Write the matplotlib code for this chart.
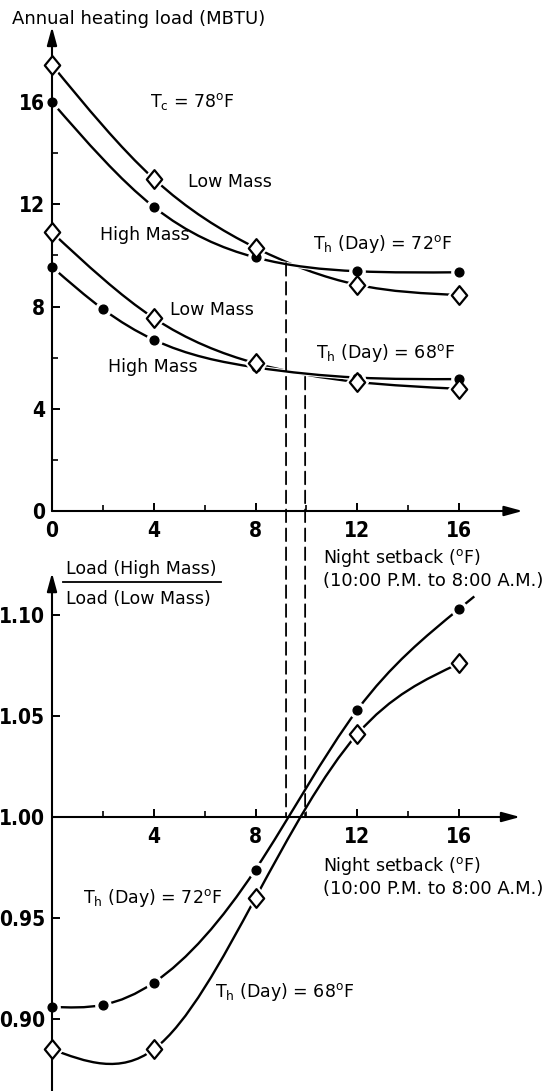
import numpy as np
import matplotlib
matplotlib.use("Agg")
import matplotlib.pyplot as plt
from matplotlib import font_manager
from matplotlib.path import Path
from matplotlib.patches import PathPatch, ConnectionPatch
import matplotlib.patheffects as pe

# ---------------- data ----------------
setback_72 = [0, 4, 8, 12, 16]
load_72_low = [17.45, 13.0, 10.3, 8.85, 8.45]
load_72_high = [16.0, 11.9, 9.92, 9.38, 9.34]

setback_68_low = [0, 4, 8, 12, 16]
load_68_low = [10.9, 7.55, 5.78, 5.05, 4.78]
setback_68_high = [0, 2, 4, 8, 12, 16]
load_68_high = [9.55, 7.9, 6.7, 5.62, 5.22, 5.16]

ratio_72_x = [0, 2, 4, 8, 12, 16]
ratio_72 = [0.906, 0.907, 0.918, 0.974, 1.053, 1.103]
ratio_68_x = [0, 4, 8, 12, 16]
ratio_68 = [0.885, 0.885, 0.960, 1.041, 1.076]

crossover_x = [9.2, 9.95]
crossover_load = [9.7, 5.25]

top_xticks = [0, 4, 8, 12, 16]
top_yticks = [0, 4, 8, 12, 16]
bot_xticks = [4, 8, 12, 16]
bot_yticks = [0.90, 0.95, 1.00, 1.05, 1.10]
bot_yticklabels = ["0.90", "0.95", "1.00", "1.05", "1.10"]

# ---------------- style ----------------
W, H = 556, 1091
plt.rcParams["font.family"] = ["DejaVu Sans"]
plt.rcParams["mathtext.fontset"] = "custom"
plt.rcParams["mathtext.rm"] = "DejaVu Sans"
TEXT_FS = 12.5
LW = 1.7

# pick a condensed bold face for the tick numerals if one is installed
_fonts = font_manager.fontManager.ttflist
TICK_FONT = None
for f in _fonts:
    if f.name == "Liberation Sans Narrow" and f.weight in (700, "bold"):
        TICK_FONT = dict(fontproperties=font_manager.FontProperties(fname=f.fname, size=16))
        break
if TICK_FONT is None:
    for f in _fonts:
        fn = f.fname.lower()
        if ("condensed" in fn or "narrow" in fn) and "bold" in fn and "oblique" not in fn and "italic" not in fn:
            TICK_FONT = dict(fontproperties=font_manager.FontProperties(fname=f.fname, size=15))
            break
if TICK_FONT is None:
    TICK_FONT = dict(family=["DejaVu Sans"], size=12.5, weight="bold")

fig = plt.figure(figsize=(W / 100, H / 100), dpi=100)


def px_axes(x0, x1, ytop, ybot):
    return fig.add_axes([x0 / W, 1 - ybot / H, (x1 - x0) / W, (ybot - ytop) / H])


def ftext(x, y, s, **kw):
    kw.setdefault("fontsize", TEXT_FS)
    kw.setdefault("ha", "left")
    kw.setdefault("va", "baseline")
    fig.text(x / W, 1 - y / H, s, **kw)


sx = 25.44
sy_top = 25.56
sy_bot = 2020.0
X0 = 52
ax_top = px_axes(X0 - 2 * sx, X0 + 19 * sx, 511 - 19.2 * sy_top, 511 + 1 * sy_top)
ax_top.set_xlim(-2, 19)
ax_top.set_ylim(-1, 19.2)
ax_bot = px_axes(X0 - 2 * sx, X0 + 19 * sx, 817 - 0.125 * sy_bot, 817 + 0.14 * sy_bot)
ax_bot.set_xlim(-2, 19)
ax_bot.set_ylim(0.86, 1.125)

diamond = Path([(0, 1), (0.82, 0), (0, -1), (-0.82, 0), (0, 1)],
               [Path.MOVETO, Path.LINETO, Path.LINETO, Path.LINETO, Path.CLOSEPOLY])


def natural_slopes(x, y):
    x = np.asarray(x, float)
    y = np.asarray(y, float)
    n = len(x)
    h = np.diff(x)
    A = np.zeros((n, n))
    b = np.zeros(n)
    A[0, 0] = A[-1, -1] = 1
    for i in range(1, n - 1):
        A[i, i - 1] = h[i - 1]
        A[i, i] = 2 * (h[i - 1] + h[i])
        A[i, i + 1] = h[i]
        b[i] = 6 * ((y[i + 1] - y[i]) / h[i] - (y[i] - y[i - 1]) / h[i - 1])
    M = np.linalg.solve(A, b)
    m = np.empty(n)
    m[:-1] = (y[1:] - y[:-1]) / h - h * (2 * M[:-1] + M[1:]) / 6
    m[-1] = (y[-1] - y[-2]) / h[-1] + h[-1] * (M[-2] + 2 * M[-1]) / 6
    return m


def curve(ax, x, y, extend=0.0):
    x = list(map(float, x))
    y = list(map(float, y))
    m = natural_slopes(x, y)
    verts = [(x[0], y[0])]
    codes = [Path.MOVETO]
    for i in range(len(x) - 1):
        h = x[i + 1] - x[i]
        verts += [(x[i] + h / 3, y[i] + m[i] * h / 3),
                  (x[i + 1] - h / 3, y[i + 1] - m[i + 1] * h / 3),
                  (x[i + 1], y[i + 1])]
        codes += [Path.CURVE4] * 3
    if extend:
        verts.append((x[-1] + extend, y[-1] + m[-1] * extend))
        codes.append(Path.LINETO)
    patch = PathPatch(Path(verts, codes), fill=False, lw=LW, edgecolor="black",
                      capstyle="butt", zorder=2, clip_on=False,
                      path_effects=[pe.Stroke(linewidth=LW + 1.6, foreground="white"), pe.Normal()])
    ax.add_patch(patch)


def markers(ax, x, y, kind):
    if kind == "diamond":
        ax.plot(x, y, ls="none", marker=diamond, ms=19, mfc="white", mec="white", zorder=3, clip_on=False)
        ax.plot(x, y, ls="none", marker=diamond, ms=13.5, mfc="white", mec="black", mew=1.6,
                zorder=6, clip_on=False)
    else:
        ax.plot(x, y, ls="none", marker="o", ms=11, mfc="white", mec="white", zorder=3, clip_on=False)
        ax.plot(x, y, ls="none", marker="o", ms=6.3, mfc="black", mec="black", zorder=5, clip_on=False)


# ---------------- top panel ----------------
curve(ax_top, setback_72, load_72_low)
curve(ax_top, setback_72, load_72_high)
curve(ax_top, setback_68_low, load_68_low)
curve(ax_top, setback_68_high, load_68_high)
markers(ax_top, setback_72, load_72_high, "dot")
markers(ax_top, setback_68_high, load_68_high, "dot")
markers(ax_top, setback_72, load_72_low, "diamond")
markers(ax_top, setback_68_low, load_68_low, "diamond")

# ---------------- bottom panel ----------------
curve(ax_bot, ratio_72_x, ratio_72, extend=0.6)
curve(ax_bot, ratio_68_x, ratio_68)
markers(ax_bot, ratio_72_x, ratio_72, "dot")
markers(ax_bot, ratio_68_x, ratio_68, "diamond")

# ---------------- axes styling ----------------
arrow_kw = dict(arrowstyle="-|>,head_length=1.1,head_width=0.3", lw=1.5, color="black",
                shrinkA=0, shrinkB=0, mutation_scale=10)
for ax in (ax_top, ax_bot):
    ax.set_facecolor("none")
    for s in ax.spines.values():
        s.set_visible(False)
    ax.spines["left"].set_position(("data", 0))
ax_top.spines["bottom"].set_position(("data", 0))
ax_bot.spines["bottom"].set_position(("data", 1.0))

ax_top.annotate("", xy=(0, 18.94), xytext=(0, 0), arrowprops=arrow_kw, zorder=4, annotation_clip=False)
ax_top.annotate("", xy=(18.5, 0), xytext=(0, 0), arrowprops=arrow_kw, zorder=4, annotation_clip=False)
ax_bot.annotate("", xy=(0, 1.1208), xytext=(0, 0.8644), arrowprops=arrow_kw, zorder=4, annotation_clip=False)
ax_bot.annotate("", xy=(18.4, 1.0), xytext=(0, 1.0), arrowprops=arrow_kw, zorder=4, annotation_clip=False)

ax_top.set_xticks(top_xticks, labels=[str(v) for v in top_xticks], **TICK_FONT)
ax_top.set_yticks(top_yticks, labels=[str(v) for v in top_yticks], **TICK_FONT)
ax_top.set_xticks([2, 6, 10, 14], minor=True)
ax_top.set_yticks([2, 6, 10, 14], minor=True)
ax_bot.set_xticks(bot_xticks, labels=[str(v) for v in bot_xticks], **TICK_FONT)
ax_bot.set_yticks(bot_yticks, labels=bot_yticklabels, **TICK_FONT)
ax_bot.set_xticks([2, 6, 10, 14], minor=True)
for ax in (ax_top, ax_bot):
    ax.tick_params(which="major", direction="in", length=6, width=1.4, pad=5)
    ax.tick_params(which="minor", direction="in", length=4, width=1.2)
    ax.tick_params(axis="x", which="major", pad=7)

# ---------------- dashed crossover lines ----------------
for cx, cy in zip(crossover_x, crossover_load):
    con = ConnectionPatch(xyA=(cx, cy), coordsA=ax_top.transData,
                          xyB=(cx, 1.0), coordsB=ax_bot.transData,
                          linestyle=(0, (7, 3.5)), lw=1.3, color="black", zorder=1)
    fig.add_artist(con)

# ---------------- text ----------------
ftext(12, 24, "Annual heating load (MBTU)", fontsize=13)
ftext(150, 107, r"T$_\mathregular{c}$ = 78$^\mathregular{o}$F")
ftext(188, 187, "Low Mass")
ftext(100, 240, "High Mass")
ftext(313, 249, r"T$_\mathregular{h}$ (Day) = 72$^\mathregular{o}$F")
ftext(170, 315, "Low Mass")
ftext(108, 372, "High Mass")
ftext(316, 358, r"T$_\mathregular{h}$ (Day) = 68$^\mathregular{o}$F")
ftext(323, 563, r"Night setback ($^\mathregular{o}$F)")
ftext(323, 586, "(10:00 P.M. to 8:00 A.M.)", fontsize=13)
ftext(66, 574, "Load (High Mass)")
ftext(66, 604, "Load (Low Mass)")
fig.add_artist(plt.Line2D([63 / W, 221 / W], [1 - 582 / H, 1 - 582 / H], lw=1.3, color="black"))
ftext(323, 871, r"Night setback ($^\mathregular{o}$F)")
ftext(323, 894, "(10:00 P.M. to 8:00 A.M.)", fontsize=13)
ftext(83, 903, r"T$_\mathregular{h}$ (Day) = 72$^\mathregular{o}$F")
ftext(215, 997, r"T$_\mathregular{h}$ (Day) = 68$^\mathregular{o}$F")

fig.savefig("out.png", dpi=100)
